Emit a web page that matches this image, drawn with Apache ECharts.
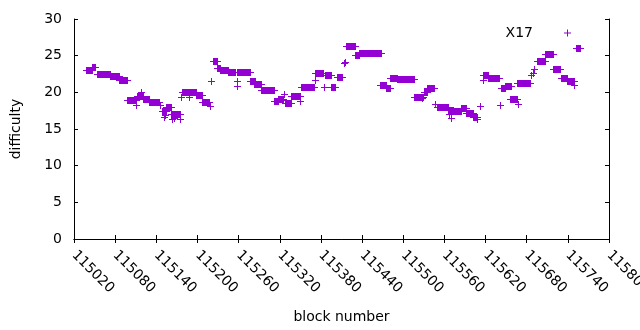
<!DOCTYPE html>
<html>
<head>
<meta charset="utf-8">
<script src="https://cdn.jsdelivr.net/npm/echarts@6/dist/echarts.min.js"></script>
<style>
  html, body { margin: 0; padding: 0; background: #fff; }
  #chart { width: 640px; height: 330px; }
</style>
</head>
<body>
<div id="chart"></div>
<script>
// runs of consecutive blocks that share one difficulty value (start == end is a single block)
const seriesName = 'X17';
const runStart = [
  115037, 115046, 115053, 115072, 115085, 115097, 115111, 115112, 115118, 115120,
  115129, 115146, 115148, 115151, 115153, 115154, 115161, 115163, 115166, 115174,
  115176, 115178, 115187, 115189, 115198, 115207, 115219, 115220, 115223, 115228,
  115233, 115244, 115257, 115257, 115258, 115276, 115283, 115292, 115311, 115317,
  115323, 115326, 115328, 115337, 115350, 115351, 115371, 115371, 115385, 115386,
  115394, 115403, 115413, 115415, 115416, 115429, 115435, 115466, 115475, 115480,
  115491, 115515, 115528, 115530, 115534, 115546, 115549, 115565, 115567, 115570,
  115572, 115584, 115592, 115601, 115608, 115612, 115616, 115616, 115623, 115641,
  115642, 115648, 115656, 115667, 115666, 115686, 115689, 115691, 115695, 115706,
  115719, 115730, 115739, 115749, 115752
];
const runEnd = [
  115046, 115050, 115073, 115085, 115097, 115111, 115111, 115120, 115118, 115129,
  115144, 115146, 115154, 115151, 115153, 115161, 115174, 115163, 115166, 115174,
  115176, 115190, 115187, 115198, 115207, 115217, 115219, 115220, 115228, 115233,
  115245, 115255, 115257, 115257, 115277, 115284, 115293, 115311, 115318, 115324,
  115323, 115326, 115337, 115350, 115350, 115370, 115371, 115383, 115385, 115395,
  115401, 115410, 115413, 115415, 115430, 115436, 115467, 115475, 115481, 115491,
  115515, 115529, 115528, 115534, 115545, 115546, 115565, 115572, 115567, 115570,
  115584, 115592, 115602, 115608, 115608, 115612, 115616, 115623, 115640, 115641,
  115649, 115657, 115666, 115667, 115685, 115686, 115689, 115691, 115707, 115719,
  115729, 115739, 115749, 115749, 115757
];
const runValue = [
  23.1, 23.4, 22.5, 22.2, 21.7, 18.9, 18.3, 19.5, 20.1, 19.1,
  18.7, 18.3, 17.5, 16.6, 16.9, 18.0, 17.0, 16.4, 16.5, 16.4,
  19.3, 20.0, 19.3, 20.1, 19.7, 18.7, 18.1, 21.5, 24.3, 23.3,
  23.1, 22.8, 21.6, 20.9, 22.8, 21.5, 21.1, 20.3, 18.8, 19.1,
  19.0, 19.8, 18.6, 19.5, 18.8, 20.7, 21.7, 22.6, 20.7, 22.4,
  20.7, 22.1, 24.0, 24.2, 26.3, 25.1, 25.4, 21.0, 20.6, 21.9,
  21.8, 19.4, 19.2, 20.1, 20.6, 18.4, 18.0, 17.6, 17.0, 16.5,
  17.5, 17.9, 17.2, 16.7, 16.3, 18.1, 21.7, 22.3, 22.0, 18.3,
  20.6, 20.9, 19.1, 18.4, 21.3, 22.3, 22.7, 23.2, 24.3, 25.2,
  23.2, 22.0, 21.6, 21.0, 26.0
];
const yTicks = [0, 5, 10, 15, 20, 25, 30];

const purple = '#9400d3';
const font = 'DejaVu Sans';
const plusIcon = 'path://M3,0H4V3H7V4H4V7H3V4H0V3H3Z';

const chart = echarts.init(document.getElementById('chart'), null, { renderer: 'canvas' });

// one '+' per block: a run of them overlaps into a filled bar with the arms sticking out
function renderRun(params, api) {
  const s = api.coord([api.value(0), api.value(2)]);
  const e = api.coord([api.value(1), api.value(2)]);
  const x0 = Math.round(s[0]), x1 = Math.round(e[0]), y = Math.round(s[1]);
  return {
    type: 'group',
    children: [
      { type: 'rect', shape: { x: x0, y: y - 3, width: x1 - x0 + 1, height: 7 }, style: { fill: purple } },
      { type: 'rect', shape: { x: x0 - 3, y: y, width: x1 - x0 + 7, height: 1 }, style: { fill: purple } },
    ],
  };
}

const axisLine = { show: true, lineStyle: { color: '#000', width: 1 } };
const axisTick = { show: true, inside: true, length: 4, lineStyle: { color: '#000', width: 1 } };
const labelText = { color: '#000', fontFamily: font, fontSize: 14 };

chart.setOption({
  animation: false,
  backgroundColor: '#fff',
  grid: { left: 74, right: 31, top: 19, bottom: 91, outerBoundsMode: 'none' },
  legend: {
    right: 69, top: 26, padding: 0,
    align: 'right',
    itemWidth: 7, itemHeight: 7,
    data: [{ name: seriesName, icon: plusIcon }],
    textStyle: { ...labelText, padding: [0, 26, 0, 0] },
    selectedMode: false,
  },
  xAxis: [{
    type: 'value', min: 115020, max: 115800, interval: 60,
    axisLine, axisTick, splitLine: { show: false },
    axisLabel: { ...labelText, rotate: -45, margin: 14, formatter: v => String(v) },
    name: 'block number', nameLocation: 'middle', nameGap: 71,
    nameTextStyle: labelText,
  }, {
    type: 'value', position: 'top', min: 115020, max: 115800, interval: 60,
    axisLine, axisTick, splitLine: { show: false }, axisLabel: { show: false },
  }],
  yAxis: [{
    type: 'value', min: yTicks[0], max: yTicks[yTicks.length - 1], interval: 5,
    axisLine, axisTick, splitLine: { show: false },
    axisLabel: { ...labelText, margin: 12 },
    name: 'difficulty', nameLocation: 'middle', nameGap: 51, nameRotate: 90,
    nameTextStyle: labelText,
  }, {
    type: 'value', position: 'right', min: yTicks[0], max: yTicks[yTicks.length - 1], interval: 5,
    axisLine, axisTick, splitLine: { show: false }, axisLabel: { show: false },
  }],
  series: [{
    name: seriesName,
    type: 'custom',
    xAxisIndex: 0, yAxisIndex: 0,
    itemStyle: { color: purple },
    encode: { x: [0, 1], y: 2 },
    renderItem: renderRun,
    data: runStart.map((s, i) => [s, runEnd[i], runValue[i]]),
  }],
});
</script>
</body>
</html>
